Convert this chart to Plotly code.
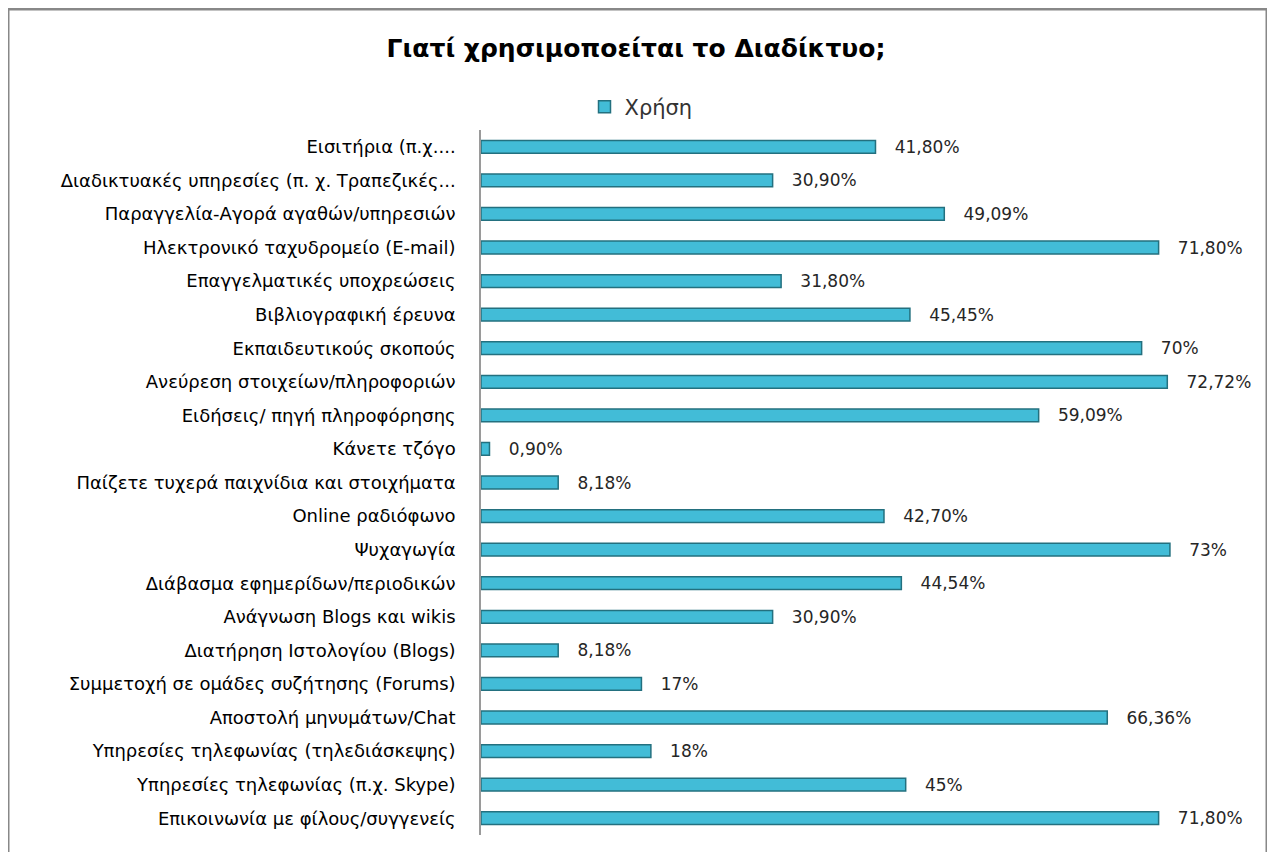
import plotly.graph_objects as go

categories = [
    "Εισιτήρια (π.χ....",
    "Διαδικτυακές υπηρεσίες (π. χ. Τραπεζικές...",
    "Παραγγελία-Αγορά αγαθών/υπηρεσιών",
    "Ηλεκτρονικό ταχυδρομείο (E-mail)",
    "Επαγγελματικές υποχρεώσεις",
    "Βιβλιογραφική έρευνα",
    "Εκπαιδευτικούς σκοπούς",
    "Ανεύρεση στοιχείων/πληροφοριών",
    "Ειδήσεις/ πηγή πληροφόρησης",
    "Κάνετε τζόγο",
    "Παίζετε τυχερά παιχνίδια και στοιχήματα",
    "Online ραδιόφωνο",
    "Ψυχαγωγία",
    "Διάβασμα εφημερίδων/περιοδικών",
    "Ανάγνωση Blogs και wikis",
    "Διατήρηση Ιστολογίου (Blogs)",
    "Συμμετοχή σε ομάδες συζήτησης (Forums)",
    "Αποστολή μηνυμάτων/Chat",
    "Υπηρεσίες τηλεφωνίας (τηλεδιάσκεψης)",
    "Υπηρεσίες τηλεφωνίας (π.χ. Skype)",
    "Επικοινωνία με φίλους/συγγενείς",
]
values = [41.80, 30.90, 49.09, 71.80, 31.80, 45.45, 70.0, 72.72, 59.09, 0.90,
          8.18, 42.70, 73.0, 44.54, 30.90, 8.18, 17.0, 66.36, 18.0, 45.0, 71.80]
value_labels = ["41,80%", "30,90%", "49,09%", "71,80%", "31,80%", "45,45%", "70%",
                "72,72%", "59,09%", "0,90%", "8,18%", "42,70%", "73%", "44,54%",
                "30,90%", "8,18%", "17%", "66,36%", "18%", "45%", "71,80%"]
series_name = "Χρήση"
title_text = "Γιατί χρησιμοποείται το Διαδίκτυο;"

# page has an 8px body margin; work in figure coordinates
OFF = 8
W, H = 1275 - OFF, 852 - OFF
L, R, T, B = 481 - OFF, 1236 - OFF, 130 - OFF, 835 - OFF

fig = go.Figure()
fig.add_trace(go.Bar(
    y=categories, x=values, orientation="h", name=series_name,
    text=value_labels, texttemplate="   %{text}", textposition="outside",
    cliponaxis=False, constraintext="none",
    textfont=dict(family="DejaVu Sans", size=17, color="#262626"),
    marker=dict(color="#42BCD7", line=dict(color="#23707F", width=1.5)),
    width=0.38,
))

fig.update_layout(
    width=W, height=H,
    paper_bgcolor="white", plot_bgcolor="white",
    margin=dict(l=L, r=W - R, t=T, b=H - B, pad=0),
    title=dict(text="<b>" + title_text + "</b>", x=(636 - OFF) / W, xref="container",
               xanchor="center", y=1 - (48 - OFF) / H, yref="container", yanchor="middle",
               font=dict(family="DejaVu Sans", size=25, color="black")),
    showlegend=True,
    legend=dict(orientation="h", x=(641 - 481) / (R - L), xanchor="center",
                y=1 + (130 - 107) / (B - T), yanchor="middle",
                font=dict(family="DejaVu Sans", size=21, color="#333333"),
                itemwidth=30),
    xaxis=dict(range=[0, 80], visible=False, showgrid=False, zeroline=False),
    yaxis=dict(autorange="reversed", showline=True, linecolor="#9a9a9a", linewidth=1.5,
               ticks="", showgrid=False, ticklabelstandoff=20,
               tickfont=dict(family="DejaVu Sans", size=18, color="black")),
)

# outer chart border (top, left, right)
x_left = (8 - 481) / (R - L)
x_right = (1267 - 481) / (R - L)
y_top = (835 - 9) / (B - T)
y_bot = -0.1
fig.add_shape(type="path", xref="paper", yref="paper",
              path=f"M {x_left} {y_bot} L {x_left} {y_top} L {x_right} {y_top} L {x_right} {y_bot}",
              line=dict(color="#888888", width=3))

fig.write_html("out.html")
